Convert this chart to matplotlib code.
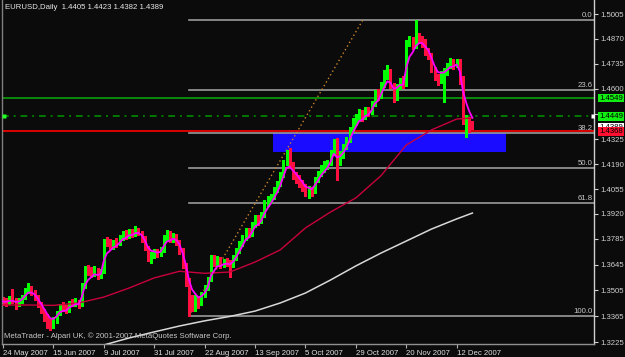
import numpy as np
import pandas as pd
import matplotlib
matplotlib.use("Agg")
import matplotlib.pyplot as plt
from matplotlib.patches import Rectangle

plt.rcParams['font.family'] = ['Liberation Sans', 'DejaVu Sans']

# daily EURUSD bars, 24 May 2007 .. 19 Dec 2007
first_open = 1.3450
closes = [
    1.3445, 1.3440, 1.3458, 1.3450, 1.3432, 1.3448, 1.3472, 1.3505, 1.3520, 1.3495,
    1.3470, 1.3428, 1.3395, 1.3362, 1.3335, 1.3318, 1.3345, 1.3385, 1.3418, 1.3408,
    1.3395, 1.3440, 1.3432, 1.3445, 1.3428, 1.3530, 1.3625, 1.3608, 1.3598, 1.3618,
    1.3582, 1.3605, 1.3772, 1.3768, 1.3742, 1.3765, 1.3758, 1.3790, 1.3812, 1.3800,
    1.3825, 1.3808, 1.3832, 1.3818, 1.3788, 1.3738, 1.3680, 1.3692, 1.3712, 1.3700,
    1.3722, 1.3790, 1.3808, 1.3785, 1.3800, 1.3768, 1.3720, 1.3640, 1.3555, 1.3440,
    1.3430, 1.3452, 1.3438, 1.3482, 1.3520, 1.3565, 1.3680, 1.3652, 1.3672, 1.3640,
    1.3662, 1.3655, 1.3640, 1.3682, 1.3722, 1.3762, 1.3792, 1.3830, 1.3810, 1.3862,
    1.3900, 1.3878, 1.3918, 1.3980, 1.3995, 1.4012, 1.4052, 1.4080, 1.4132, 1.4200,
    1.4240, 1.4185, 1.4125, 1.4112, 1.4082, 1.4062, 1.4030, 1.4052, 1.4042, 1.4110,
    1.4140, 1.4172, 1.4180, 1.4200, 1.4255, 1.4310, 1.4200, 1.4240, 1.4282, 1.4322,
    1.4378, 1.4422, 1.4440, 1.4470, 1.4442, 1.4482, 1.4468, 1.4520, 1.4572, 1.4558,
    1.4622, 1.4662, 1.4690, 1.4620, 1.4550, 1.4612, 1.4642, 1.4622, 1.4850, 1.4862,
    1.4832, 1.4882, 1.4870, 1.4852, 1.4800, 1.4780, 1.4700, 1.4660, 1.4640, 1.4680,
    1.4690, 1.4722, 1.4742, 1.4725, 1.4748, 1.4640, 1.4425, 1.4432, 1.4405, 1.4389,
]
highs = [
    1.3470, 1.3462, 1.3475, 1.3515, 1.3466, 1.3462, 1.3480, 1.3518, 1.3545, 1.3530,
    1.3505, 1.3478, 1.3440, 1.3405, 1.3375, 1.3348, 1.3360, 1.3395, 1.3430, 1.3440,
    1.3425, 1.3450, 1.3458, 1.3462, 1.3455, 1.3545, 1.3640, 1.3645, 1.3630, 1.3635,
    1.3628, 1.3620, 1.3785, 1.3795, 1.3785, 1.3780, 1.3790, 1.3805, 1.3830, 1.3835,
    1.3840, 1.3838, 1.3852, 1.3845, 1.3830, 1.3800, 1.3748, 1.3712, 1.3730, 1.3728,
    1.3740, 1.3805, 1.3835, 1.3825, 1.3818, 1.3812, 1.3780, 1.3735, 1.3655, 1.3570,
    1.3480, 1.3478, 1.3468, 1.3495, 1.3535, 1.3580, 1.3695, 1.3700, 1.3690, 1.3685,
    1.3675, 1.3680, 1.3668, 1.3695, 1.3735, 1.3775, 1.3808, 1.3845, 1.3845, 1.3875,
    1.3915, 1.3912, 1.3932, 1.3995, 1.4020, 1.4030, 1.4065, 1.4098, 1.4150, 1.4215,
    1.4265, 1.4280, 1.4200, 1.4150, 1.4130, 1.4105, 1.4085, 1.4070, 1.4068, 1.4122,
    1.4155, 1.4188, 1.4205, 1.4215, 1.4268, 1.4325, 1.4330, 1.4262, 1.4298, 1.4338,
    1.4392, 1.4438, 1.4465, 1.4490, 1.4485, 1.4498, 1.4500, 1.4535, 1.4590, 1.4600,
    1.4635, 1.4700, 1.4730, 1.4705, 1.4632, 1.4625, 1.4660, 1.4668, 1.4865, 1.4885,
    1.4878, 1.4973, 1.4900, 1.4885, 1.4870, 1.4818, 1.4795, 1.4720, 1.4680, 1.4695,
    1.4710, 1.4738, 1.4765, 1.4760, 1.4762, 1.4760, 1.4668, 1.4455, 1.4445, 1.4423,
]
lows = [
    1.3425, 1.3418, 1.3430, 1.3436, 1.3405, 1.3420, 1.3438, 1.3460, 1.3490, 1.3480,
    1.3455, 1.3415, 1.3380, 1.3340, 1.3300, 1.3290, 1.3300, 1.3330, 1.3370, 1.3392,
    1.3380, 1.3388, 1.3418, 1.3420, 1.3412, 1.3420, 1.3520, 1.3590, 1.3580, 1.3585,
    1.3565, 1.3570, 1.3598, 1.3748, 1.3728, 1.3730, 1.3740, 1.3750, 1.3780, 1.3785,
    1.3790, 1.3795, 1.3800, 1.3805, 1.3770, 1.3722, 1.3665, 1.3655, 1.3680, 1.3685,
    1.3690, 1.3715, 1.3780, 1.3770, 1.3768, 1.3750, 1.3705, 1.3625, 1.3530, 1.3366,
    1.3395, 1.3395, 1.3410, 1.3425, 1.3470, 1.3505, 1.3555, 1.3638, 1.3640, 1.3628,
    1.3630, 1.3640, 1.3580, 1.3630, 1.3670, 1.3710, 1.3745, 1.3780, 1.3795, 1.3800,
    1.3850, 1.3862, 1.3870, 1.3905, 1.3965, 1.3980, 1.4000, 1.4040, 1.4070, 1.4120,
    1.4185, 1.4170, 1.4110, 1.4090, 1.4065, 1.4045, 1.4015, 1.4005, 1.4020, 1.4035,
    1.4095, 1.4125, 1.4150, 1.4165, 1.4185, 1.4240, 1.4105, 1.4185, 1.4225, 1.4270,
    1.4310, 1.4365, 1.4405, 1.4425, 1.4425, 1.4435, 1.4450, 1.4460, 1.4505, 1.4540,
    1.4550, 1.4610, 1.4650, 1.4605, 1.4530, 1.4540, 1.4600, 1.4605, 1.4615, 1.4830,
    1.4815, 1.4820, 1.4850, 1.4825, 1.4785, 1.4762, 1.4688, 1.4645, 1.4620, 1.4630,
    1.4528, 1.4675, 1.4710, 1.4705, 1.4715, 1.4625, 1.4410, 1.4335, 1.4365, 1.4382,
]
opens = [first_open] + closes[:-1]
dates = pd.bdate_range("2007-05-24", periods=len(closes))

# slower moving averages, sampled every 8 bars
red_ma_idx = [0, 8, 16, 24, 32, 40, 48, 56, 64, 72, 80, 88, 96, 104, 112, 120, 128, 136, 144, 149]
red_ma = [1.3426, 1.3426, 1.3424, 1.3437, 1.3469, 1.3518, 1.3573, 1.3609, 1.3598, 1.3605,
          1.3659, 1.3725, 1.3844, 1.3931, 1.4007, 1.4128, 1.4294, 1.4376, 1.4435, 1.4441]
white_ma_idx = [32, 40, 48, 56, 64, 72, 80, 88, 96, 104, 112, 120, 128, 136, 144, 149]
white_ma = [1.3209, 1.3247, 1.3280, 1.3312, 1.3340, 1.3364, 1.3393, 1.3437, 1.3491, 1.3562,
            1.3638, 1.3708, 1.3773, 1.3838, 1.3893, 1.3925]

# objects
fib_x = [59, 114.3]
fib_p = [1.3366, 1.4975]
fib_ratios = [0.0, 0.236, 0.382, 0.5, 0.618, 1.0]
fib_names = ["0.0", "23.6", "38.2", "50.0", "61.8", "100.0"]
zone_x = [85.7, 159.7]
zone_p = [1.42579, 1.43577]
hline_green = 1.4549
hline_dashdot = 1.4449
hline_red = 1.4368
bid = 1.4389
yticks = [1.5005, 1.4870, 1.4735, 1.4600, 1.4460, 1.4325, 1.4190, 1.4055,
          1.3920, 1.3785, 1.3645, 1.3505, 1.3365, 1.3225]

bg = "#0b0b0b"
fs = 5.6
fig = plt.figure(figsize=(6.25, 3.57), dpi=100, facecolor=bg)
ax = fig.add_axes([2 / 625, 13 / 357, 592 / 625, 344 / 357], facecolor=bg)

x = np.arange(len(closes))
o = np.array(opens)
c = np.array(closes)
up = c >= o
col = np.where(up, "#00ff00", "#ff1040")

# background objects
ax.add_patch(Rectangle((zone_x[0], zone_p[0]), zone_x[1] - zone_x[0], zone_p[1] - zone_p[0],
                       facecolor="#1a0cff", edgecolor="none", zorder=0.5))
hi, lo = fib_p[1], fib_p[0]
for r, name in zip(fib_ratios, fib_names):
    lvl = hi - r * (hi - lo)
    ax.plot([fib_x[0], 200], [lvl, lvl], color="#9a9a9a", lw=1.2, zorder=1)
    ax.text(187.1, lvl + 0.0004, name, color="#c8c8c8", fontsize=fs, ha="right", va="bottom")
ax.plot(fib_x, fib_p, color="#c8842a", lw=1.0, ls=(0, (1, 2)), zorder=1)

ax.axhline(hline_green, color="#0a8a0a", lw=1.4, zorder=1)
ax.axhline(hline_dashdot, color="#007a00", lw=1.4, ls=(0, (3.5, 2.5, 1, 2.5)), zorder=1)
ax.axhline(hline_red, color="#ff0000", lw=1.2, zorder=1.1)
ax.plot([0.3], [hline_dashdot], marker="s", ms=2.8, color="#22ff22", mec="none", zorder=4)
ax.plot([187.2], [hline_dashdot], marker="s", ms=2.4, color="white", mec="none", zorder=4)

# candles
ax.vlines(x, lows, highs, colors=col, lw=0.8, zorder=2, antialiased=False)
body = np.where(np.abs(c - o) < 0.0002, 0.0002, c - o)
ax.bar(x, body, bottom=o, width=0.62, color=col, zorder=2, antialiased=False)

# moving averages
fast = pd.Series(closes).ewm(span=4, adjust=False).mean()
ax.plot(white_ma_idx, white_ma, color="#d8d8d8", lw=1.1, zorder=3)
ax.plot(red_ma_idx, red_ma, color="#c8003c", lw=1.0, zorder=3)
ax.plot(x, fast, color="#ff00ff", lw=1.3, zorder=3)

ax.set_xlim(-0.32, 187.6)
ax.set_ylim(1.32144, 1.50810)

# axes look
ax.spines["top"].set_visible(False)
ax.spines["left"].set_color("#808080")
ax.spines["bottom"].set_color("#909090")
ax.spines["right"].set_color("#d0d0d0")
for s in ["left", "bottom", "right"]:
    ax.spines[s].set_linewidth(1.0)

ax.yaxis.tick_right()
ax.set_yticks(yticks)
ax.set_yticklabels([f"{v:.4f}" for v in yticks])
ax.tick_params(axis="y", direction="out", length=3, width=0.8, colors="#d0d0d0",
               labelsize=fs, pad=1.5)

tick_idx = x[::16]
ax.set_xticks(tick_idx)
ax.set_xticklabels([f"{d.day} {d.strftime('%b %Y')}" for d in dates[tick_idx]])
ax.tick_params(axis="x", direction="out", length=3, width=0.8, colors="#b0b0b0",
               labelsize=fs, pad=1.5, labelcolor="#e0e0e0")
for lab in ax.get_xticklabels():
    lab.set_horizontalalignment("left")

# price tags on the scale
tags = [(hline_green, "#11ee11"), (hline_dashdot, "#11ee11"), (bid, "#ffffff"), (hline_red, "#ff1030")]
for i, (p, fc) in enumerate(tags):
    ax.text(1.0 + 5 / 592, p, f"{p:.4f}", transform=ax.get_yaxis_transform(), fontsize=fs,
            color="black", ha="left", va="center", zorder=5 + i, clip_on=False,
            bbox=dict(boxstyle="square,pad=0.12", fc=fc, ec="none"))

fig.text(5 / 625, 1 - 7.5 / 357, "EURUSD,Daily  1.4405 1.4423 1.4382 1.4389",
         color="#e8e8e8", fontsize=fs, ha="left", va="center")
fig.text(4 / 625, 1 - 336.5 / 357,
         "MetaTrader - Alpari UK, \u00a9 2001-2007 MetaQuotes Software Corp.",
         color="#c8c8c8", fontsize=fs, ha="left", va="center")

fig.savefig("out.png", dpi=100, facecolor=bg)
